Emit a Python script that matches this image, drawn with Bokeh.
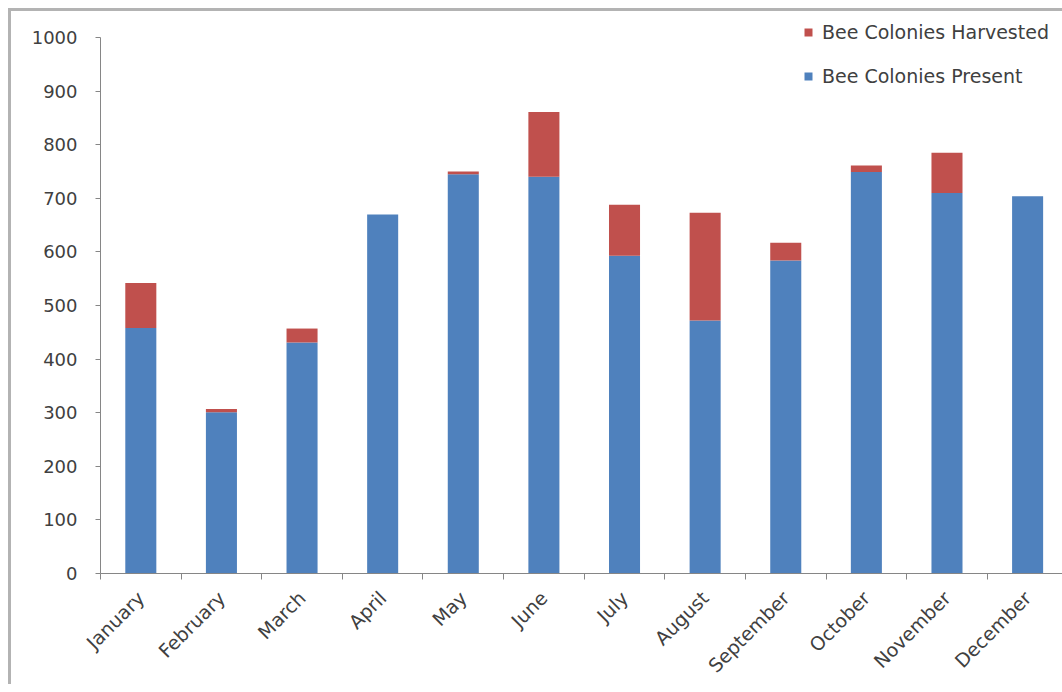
import math
from bokeh.plotting import figure
from bokeh.models import Range1d, FixedTicker, Legend, LegendItem, ColumnDataSource
from bokeh.embed import file_html
from bokeh.resources import INLINE

months = ["January", "February", "March", "April", "May", "June",
          "July", "August", "September", "October", "November", "December"]
present = [458, 301, 431, 670, 745, 740, 593, 472, 584, 749, 710, 704]
harvested = [84, 6, 26, 0, 5, 121, 95, 201, 33, 12, 75, 0]
y_ticks = [0, 100, 200, 300, 400, 500, 600, 700, 800, 900, 1000]

x = [i + 0.5 for i in range(len(months))]
src = ColumnDataSource(dict(x=x, present=present, harvested=harvested))

FONT = "DejaVu Sans"
TXT = "#404040"
AX = "#868686"

p = figure(width=1054, height=676, output_backend="svg", toolbar_location=None,
           x_range=Range1d(0, 11.97), y_range=Range1d(0, 1048.5),
           min_border_left=89, min_border_right=0, min_border_top=0,
           min_border_bottom=114)
p.styles = {"border-left": "3px solid #b3b3b3", "border-top": "3px solid #b3b3b3",
            "margin-left": "8px", "margin-top": "8px"}
p.outline_line_color = None
p.xgrid.visible = False
p.ygrid.visible = False

r = p.vbar_stack(["present", "harvested"], x="x", width=0.385, source=src,
                 color=["#4F81BD", "#C0504D"], line_color=None)

# x axis: boundary ticks (minor) and centred labels (major)
xa = p.xaxis[0]
xa.ticker = FixedTicker(ticks=x, minor_ticks=list(range(len(months) + 1)))
xa.major_label_overrides = {v: m for v, m in zip(x, months)}
xa.major_tick_out = 0
xa.major_tick_in = 0
xa.minor_tick_out = 6
xa.minor_tick_in = 0
xa.minor_tick_line_color = AX
xa.axis_line_color = AX
xa.major_label_orientation = math.pi / 4
xa.major_label_text_font = FONT
xa.major_label_text_font_size = "19px"
xa.major_label_text_color = TXT
xa.major_label_standoff = 15

ya = p.yaxis[0]
ya.ticker = FixedTicker(ticks=y_ticks)
ya.bounds = (0, 1000)
ya.major_tick_out = 5
ya.major_tick_in = 0
ya.minor_tick_line_color = None
ya.major_tick_line_color = AX
ya.axis_line_color = AX
ya.major_label_text_font = FONT
ya.major_label_text_font_size = "18px"
ya.major_label_text_color = TXT
ya.major_label_standoff = 18

legend = Legend(items=[LegendItem(label="Bee Colonies Harvested", renderers=[r[1]]),
                       LegendItem(label="Bee Colonies Present", renderers=[r[0]])],
                location=(703, 486), padding=0, margin=0, spacing=22,
                glyph_width=10, glyph_height=10, label_height=20,
                label_standoff=9, border_line_color=None,
                background_fill_alpha=0,
                label_text_font=FONT, label_text_font_size="19px",
                label_text_color=TXT)
p.add_layout(legend)

open("out.html", "w").write(file_html(p, INLINE))
